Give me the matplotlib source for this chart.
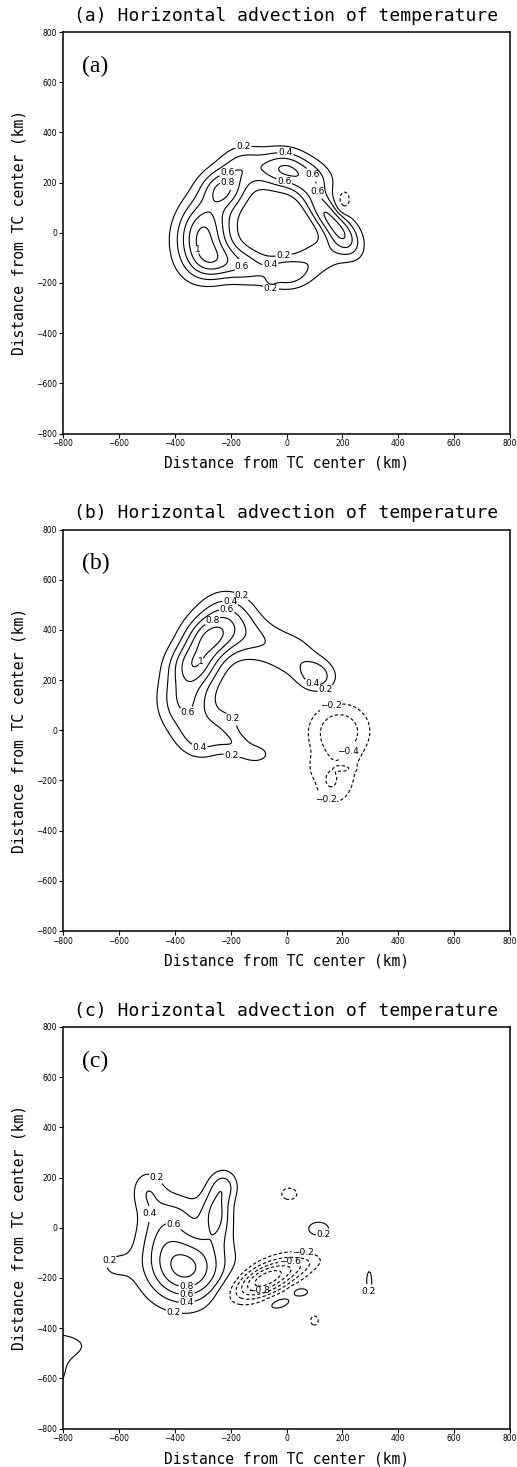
import numpy as np
import matplotlib
matplotlib.use("Agg")
import matplotlib.pyplot as plt

# ---------------------------------------------------------------
# Horizontal temperature advection around the TC centre, built as a
# sum of elliptical anomalies: centre (km), amplitude, e-folding
# half-widths (km) and orientation (deg) of each anomaly.
# ---------------------------------------------------------------

# (a)
a_xc  = [-300, -225, -150,  -15,   90,  150,  205,  215,  115,    0,  -55, -150, -260]
a_yc  = [   0,  175,  270,  255,  215,   60,  130,  -30,  -95, -160, -196, -135, -115]
a_amp = [1.00, 0.70, 0.45, 0.70, 0.45, 0.80, -0.42, 0.30, 0.30, 0.55, 0.15, 0.45, 0.55]
a_sx  = [  65,   55,   60,   60,   60,   35,   18,   45,   60,   60,   14,   60,   60]
a_sy  = [ 100,   55,   55,   55,   50,   95,   32,   60,   50,   45,   14,   50,   55]
a_rot = [ -10,  -40,  -10,    0,  -30,   35,    0,    0,   30,    0,    0,  -20,   30]

# (b)
b_xc  = [-330, -282, -215, -110,   20,  110, -365, -300, -180, -100, -200,  190,  170,  100,  210,  158]
b_yc  = [ 262,  362,  440,  360,  300,  215,  120,  -30,  -60,  -95,   40,    0, -190, -140, -153, -200]
b_amp = [0.72, 0.72, 0.62, 0.30, 0.30, 0.50, 0.62, 0.42, 0.30, 0.20, 0.15, -0.55, -0.33, -0.15, -0.15, -0.18]
b_sx  = [  62,   62,   70,   70,   70,   50,   65,   60,   60,   35,   45,   75,   65,   10,   20,   14]
b_sy  = [  60,   60,   75,   60,   65,   45,   90,   60,   35,   25,   45,   75,   95,   25,    8,   22]
b_rot = [ -30,  -30,    0,  -10,  -30,  -40,    0,    0,  -30,    0,    0,    0,    0,    0,    0,    0]

# (c)
c_xc  = [-360, -250, -220, -450, -370, -620, -500,  -75,   60,   10,  100,  115,  296,   50,  -25, -820, -840]
c_yc  = [-160,   60,  170,    0,   60, -150,  150, -205, -150,  135, -370,   -5, -215, -255, -300, -470, -570]
c_amp = [1.05, 0.60, 0.35, 0.35, 0.20, 0.20, 0.30, -1.15, -0.20, -0.30, -0.30, 0.30, 0.30, 0.35, 0.35, 0.30, 0.30]
c_sx  = [ 100,   38,   35,   60,   60,   50,   40,   95,   60,   30,   15,   40,   10,   25,   36,   90,   50]
c_sy  = [ 100,   80,   45,  100,   60,   50,   60,   42,   25,   25,   20,   30,   45,   15,   18,   40,   70]
c_rot = [   0,    0,    0,    0,    0,    0,    0,   28,   20,    0,    0,    0,    0,    0,   20,    0,    0]

# contour-label anchor points (km) for each panel
a_lab = [(-154, 342), (-5, 309), (-208, 225), (-208, 203), (-11, 196),
         (95, 235), (100, 160), (-304, -63), (-11, -83), (-59, -123),
         (-154, -136), (-59, -243)]
b_lab = [(-155, 549), (-202, 508), (-214, 472), (-260, 425), (-315, 282),
         (90, 180), (144, 149), (156, 106), (-155, 82), (-357, 40),
         (203, -69), (-310, -60), (-202, -133), (115, -320)]
c_lab = [(-459, 209), (-459, 54), (-411, -6), (-656, -103), (-357, -236),
         (-357, -265), (-357, -293), (-405, -347), (143, -57), (60, -100),
         (12, -143), (-101, -243), (295, -305)]

levels = [-1.2, -1.0, -0.8, -0.6, -0.4, -0.2, 0.2, 0.4, 0.6, 0.8, 1.0, 1.2]
ticks = [-800, -600, -400, -200, 0, 200, 400, 600, 800]
titles = ["(a) Horizontal advection of temperature",
          "(b) Horizontal advection of temperature",
          "(c) Horizontal advection of temperature"]
tags = ["(a)", "(b)", "(c)"]
axis_label = "Distance from TC center (km)"

gx = np.arange(-800.0, 801.0, 5.0)
GX, GY = np.meshgrid(gx, gx)


def build_field(xc, yc, amp, sx, sy, rot):
    z = np.zeros_like(GX)
    for x0, y0, a, s1, s2, r in zip(xc, yc, amp, sx, sy, rot):
        t = np.deg2rad(r)
        dx, dy = GX - x0, GY - y0
        u = dx * np.cos(t) + dy * np.sin(t)
        v = -dx * np.sin(t) + dy * np.cos(t)
        z += a * np.exp(-0.5 * ((u / s1) ** 2 + (v / s2) ** 2))
    return z


fields = [build_field(a_xc, a_yc, a_amp, a_sx, a_sy, a_rot),
          build_field(b_xc, b_yc, b_amp, b_sx, b_sy, b_rot),
          build_field(c_xc, c_yc, c_amp, c_sx, c_sy, c_rot)]
label_spots = [a_lab, b_lab, c_lab]

W, H = 517, 1467
fig = plt.figure(figsize=(W / 100, H / 100), dpi=100)

left_px, width_px, height_px = 63, 447, 401.5
tops_px = [32, 529.5, 1027]
mono = "DejaVu Sans Mono"

for k, (z, top) in enumerate(zip(fields, tops_px)):
    ax = fig.add_axes([left_px / W, 1 - (top + height_px) / H,
                       width_px / W, height_px / H])
    cs = ax.contour(GX, GY, z, levels=levels, colors="k",
                    linewidths=0.8)
    cs.set_linestyles([(0, (3, 2)) if lv < 0 else "-" for lv in cs.levels])
    labels = ax.clabel(cs, fmt=lambda v: f"{v:g}".replace("-", "\u2212"),
                       fontsize=6.5, inline=True, inline_spacing=1,
                       manual=label_spots[k])
    for t in labels:
        t.set_rotation(0)
    ax.set_xlim(-800, 800)
    ax.set_ylim(-800, 800)
    ax.set_xticks(ticks)
    ax.set_yticks(ticks)
    ax.tick_params(direction="out", length=3, width=0.8, labelsize=5.5,
                   pad=1, top=False, right=False)
    for sp in ax.spines.values():
        sp.set_linewidth(1.1)
    ax.text(0.0425, 0.915, tags[k], transform=ax.transAxes,
            family="Liberation Serif", fontsize=17, va="center", ha="left")
    cx = (left_px + width_px / 2) / W
    fig.text(cx, 1 - (top - 16) / H, titles[k], ha="center", va="center",
             fontsize=13, family=mono)
    fig.text(cx, 1 - (top + height_px + 30) / H, axis_label, ha="center",
             va="center", fontsize=10.5, family=mono)
    fig.text(19 / W, 1 - (top + height_px / 2) / H, axis_label,
             ha="center", va="center", rotation=90, fontsize=10.5,
             family=mono)

fig.savefig("out.png", dpi=100)
